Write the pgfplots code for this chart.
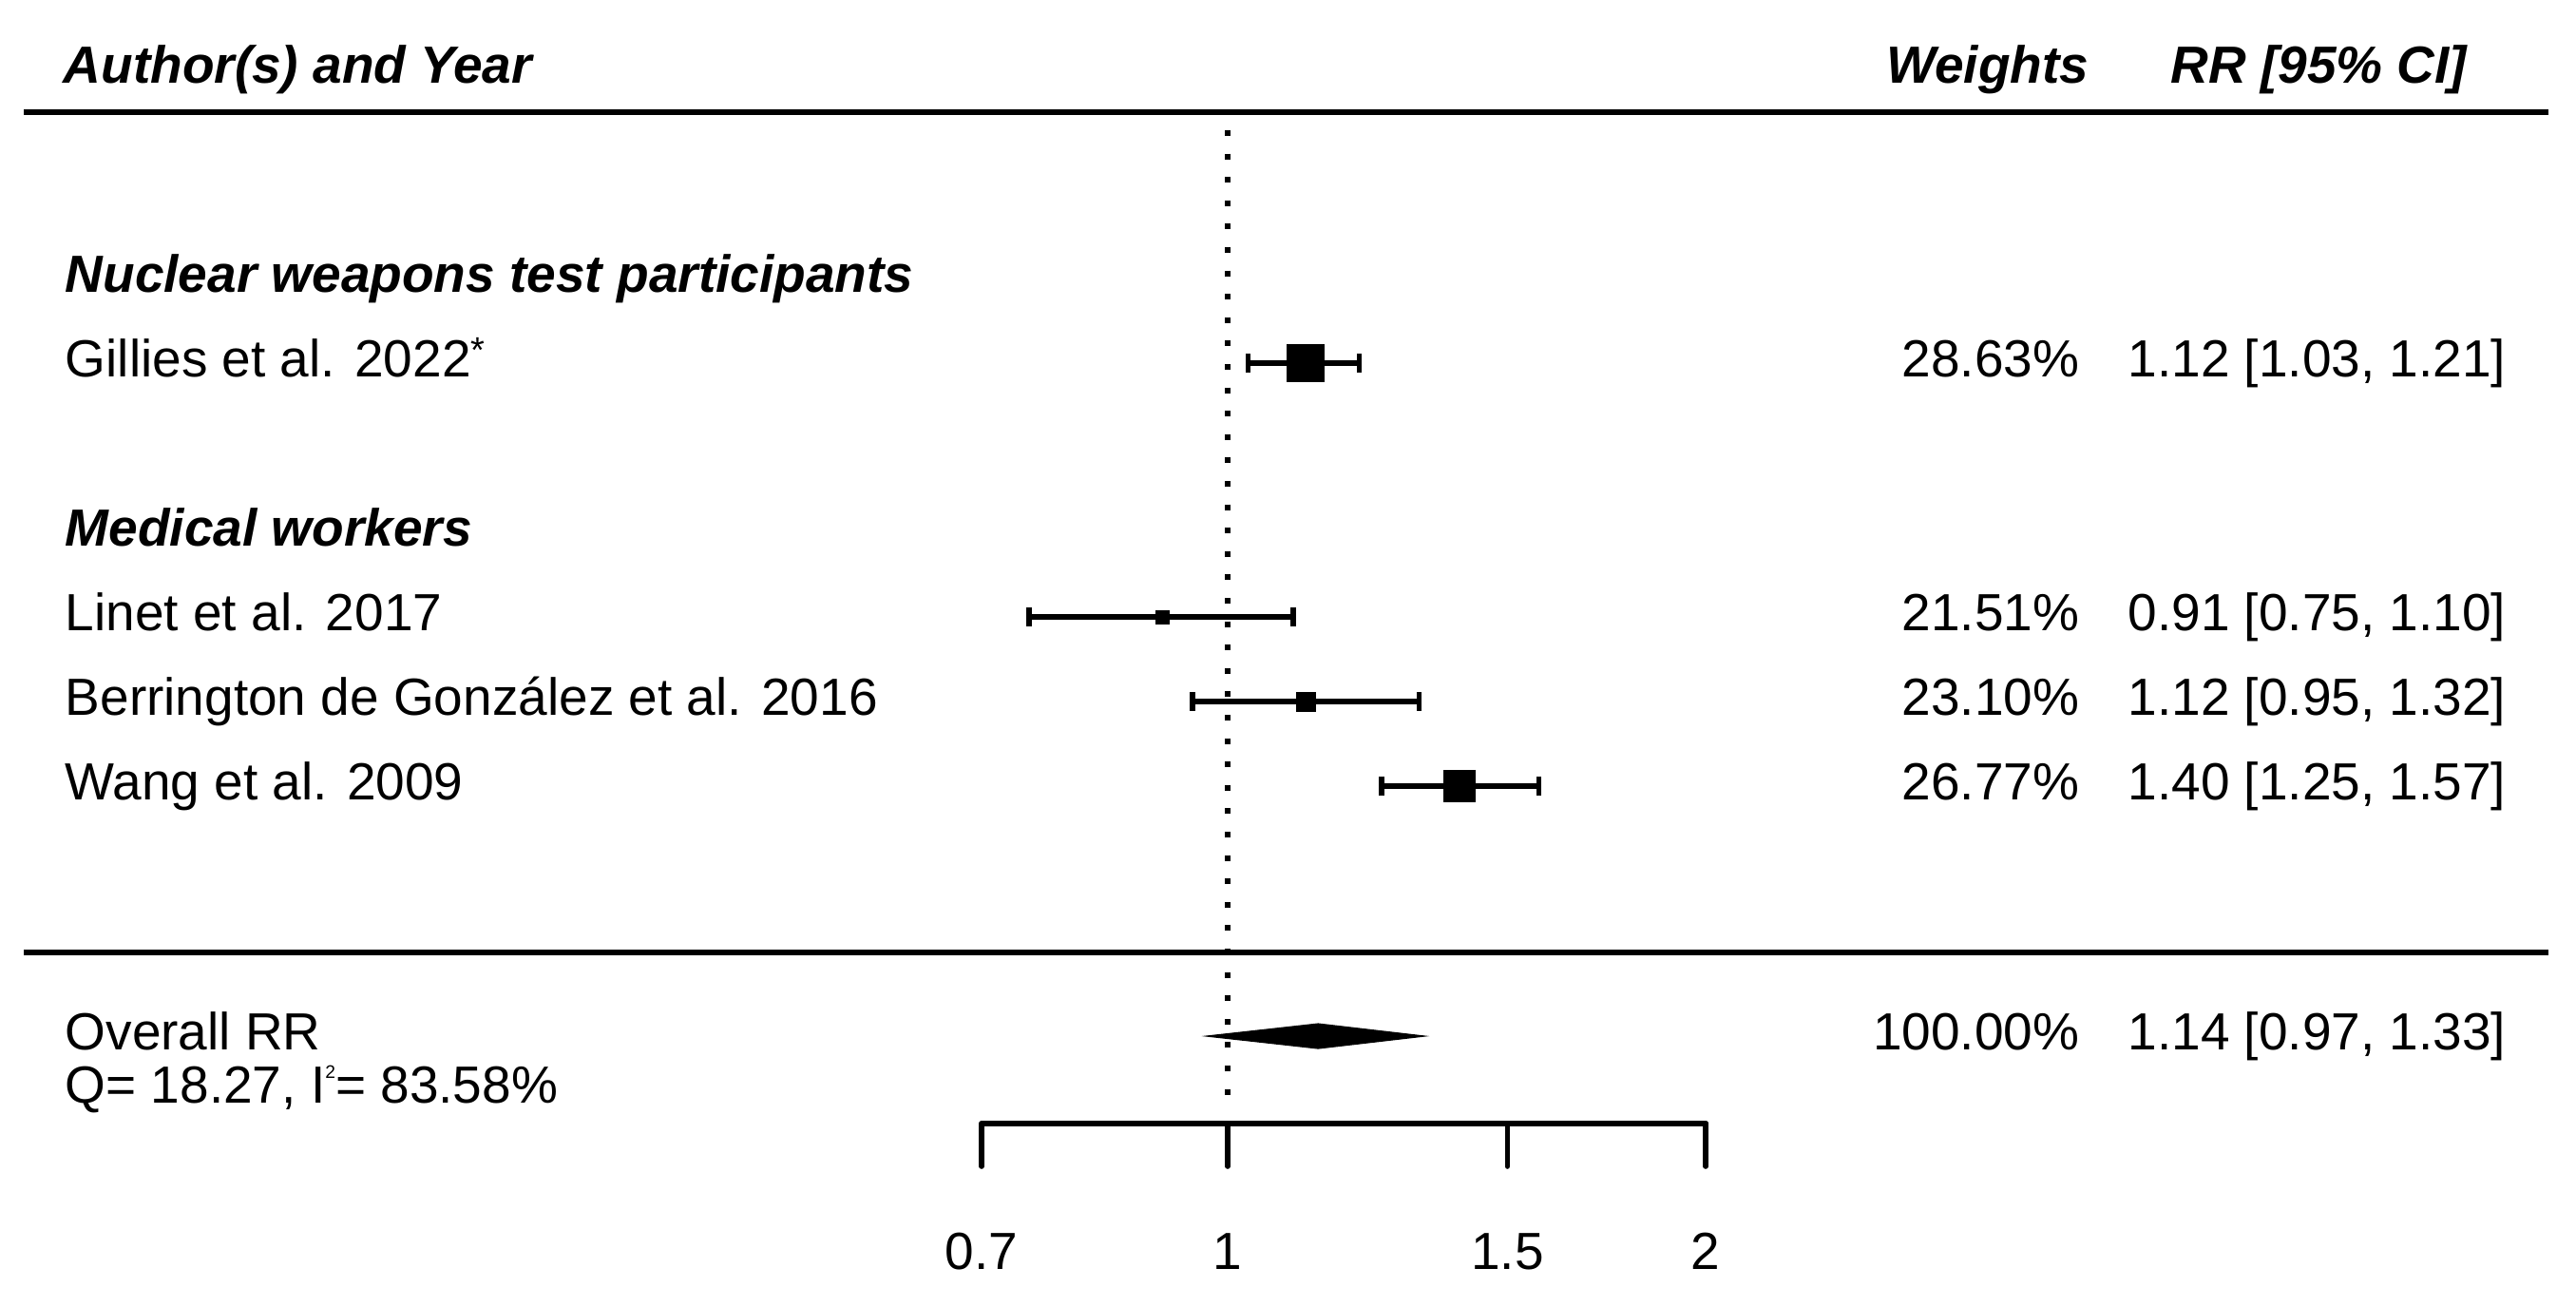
\documentclass[border=0pt]{standalone}
\usepackage{fontspec}
\setmainfont{Liberation Sans}
\usepackage{pgfplots}
\pgfplotsset{compat=1.18}
\begin{document}
\begin{tikzpicture}
\useasboundingbox (0,0) rectangle (677.75pt,-343.5pt);
\begin{axis}[at={(0pt,0pt)}, anchor=north west, scale only axis,
  width=677.75pt, height=343.5pt,
  xmode=log, xmin=0.16869, xmax=7.061,
  ymin=0, ymax=1374, y dir=reverse,
  axis lines=none, clip=false]
% reference line at RR = 1
\addplot[black, line width=1.5pt, line cap=butt, dash pattern=on 1.5pt off 4.65pt] coordinates {(1,137) (1,1166)};
% confidence intervals
\addplot[black, line width=1.4pt, mark=|, mark size=2.5pt, mark options={solid}] coordinates {(1.03,382) (1.21,382)};
\addplot[black, line width=1.4pt, mark=|, mark size=2.5pt, mark options={solid}] coordinates {(0.75,649) (1.10,649)};
\addplot[black, line width=1.4pt, mark=|, mark size=2.5pt, mark options={solid}] coordinates {(0.95,738) (1.32,738)};
\addplot[black, line width=1.4pt, mark=|, mark size=2.5pt, mark options={solid}] coordinates {(1.25,827) (1.57,827)};
% point estimates
\addplot[only marks, mark=square*, mark size=4.875pt, mark options={fill=black, draw=black, line width=0pt}] coordinates {(1.12,382)};
\addplot[only marks, mark=square*, mark size=1.75pt, mark options={fill=black, draw=black, line width=0pt}] coordinates {(0.91,649)};
\addplot[only marks, mark=square*, mark size=2.5pt, mark options={fill=black, draw=black, line width=0pt}] coordinates {(1.12,738)};
\addplot[only marks, mark=square*, mark size=4.125pt, mark options={fill=black, draw=black, line width=0pt}] coordinates {(1.40,827)};
% summary diamond
\addplot[fill=black, draw=black, line width=0.3pt] coordinates {(0.97,1090) (1.14,1077) (1.33,1090) (1.14,1103)} -- cycle;
% x axis
\addplot[black, line width=1.4pt, line cap=round] coordinates {(0.7,1182) (2,1182)};
\draw[line width=1.4pt, line cap=round] (axis cs:0.7,1182) -- (axis cs:0.7,1227);
\draw[line width=1.4pt, line cap=round] (axis cs:1,1182) -- (axis cs:1,1227);
\draw[line width=1.4pt, line cap=round] (axis cs:1.5,1182) -- (axis cs:1.5,1227);
\draw[line width=1.4pt, line cap=round] (axis cs:2,1182) -- (axis cs:2,1227);
\node[anchor=base, inner sep=0pt, font=\fontsize{13.75}{16}\selectfont] at (axis cs:0.7,1335) {0.7};
\node[anchor=base, inner sep=0pt, font=\fontsize{13.75}{16}\selectfont] at (axis cs:1,1335) {1};
\node[anchor=base, inner sep=0pt, font=\fontsize{13.75}{16}\selectfont] at (axis cs:1.5,1335) {1.5};
\node[anchor=base, inner sep=0pt, font=\fontsize{13.75}{16}\selectfont] at (axis cs:2,1335) {2};
\end{axis}
\begin{scope}[x=0.25pt, y=-0.25pt, every node/.style={inner sep=0pt, font=\fontsize{13.75}{16}\selectfont}]
\draw[line width=1.4pt] (25,118) -- (2682,118);
\draw[line width=1.4pt] (25,1002) -- (2682,1002);
% headers
\node[anchor=base west] at (66,87) {\bfseries\itshape Author(s) and Year};
\node[anchor=base east] at (2199,87) {\bfseries\itshape Weights};
\node[anchor=base east] at (2597,87) {\bfseries\itshape RR [95\% CI]};
% left labels
\node[anchor=base west] at (68,307) {\bfseries\itshape Nuclear weapons test participants};
\node[anchor=base west] at (68,396) {Gillies et al. 2022\raisebox{3.6pt}{\fontsize{9.5}{10}\selectfont *}};
\node[anchor=base west] at (68,574) {\bfseries\itshape Medical workers};
\node[anchor=base west] at (68,663) {Linet et al. 2017};
\node[anchor=base west] at (68,752) {Berrington de González et al. 2016};
\node[anchor=base west] at (68,841) {Wang et al. 2009};
\node[anchor=base west] at (68,1104) {Overall RR};
\node[anchor=base west] at (68,1160) {Q= 18.27, I\raisebox{6.4pt}{\fontsize{4.8}{5}\selectfont 2}= 83.58\%};
% weights
\node[anchor=base east] at (2189,396) {28.63\%};
\node[anchor=base east] at (2189,663) {21.51\%};
\node[anchor=base east] at (2189,752) {23.10\%};
\node[anchor=base east] at (2189,841) {26.77\%};
\node[anchor=base east] at (2189,1104) {100.00\%};
% estimates
\node[anchor=base east] at (2638,396) {1.12 [1.03, 1.21]};
\node[anchor=base east] at (2638,663) {0.91 [0.75, 1.10]};
\node[anchor=base east] at (2638,752) {1.12 [0.95, 1.32]};
\node[anchor=base east] at (2638,841) {1.40 [1.25, 1.57]};
\node[anchor=base east] at (2638,1104) {1.14 [0.97, 1.33]};
\end{scope}
\end{tikzpicture}
\end{document}
